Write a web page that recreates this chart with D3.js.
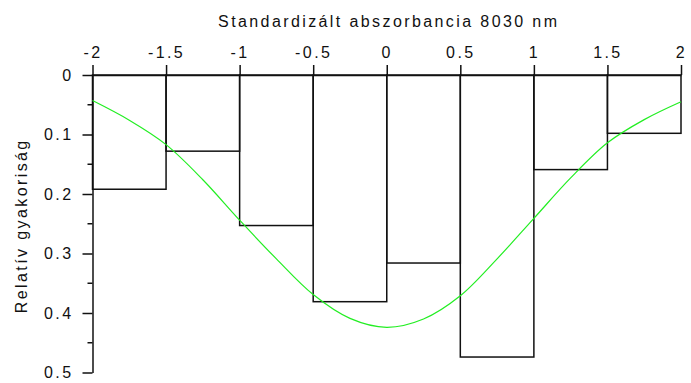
<!DOCTYPE html>
<html>
<head>
<meta charset="utf-8">
<script src="https://cdn.jsdelivr.net/npm/d3@7"></script>
<style>
  html, body { margin: 0; padding: 0; background: #fff; }
  svg { display: block; }
  text { font-family: "Liberation Sans", Arial, sans-serif; font-size: 16px; fill: #111; letter-spacing: 2.4px; }
  .axis path, .axis line { stroke: #111; stroke-width: 1.5; }
</style>
</head>
<body>
<svg id="chart" width="691" height="383"></svg>
<script>
/* ── data ── */
const binEdges = [-2, -1.5, -1, -0.5, 0, 0.5, 1, 1.5, 2];
const binFreq  = [0.192, 0.128, 0.253, 0.381, 0.316, 0.474, 0.159, 0.098];

// fitted curve (green)
const curveX = [-2, -1.75, -1.5, -1.25, -1, -0.75, -0.5, -0.25, 0, 0.25, 0.5, 0.75, 1, 1.25, 1.5, 1.75, 2];
const curveY = [0.043, 0.076, 0.117, 0.176, 0.244, 0.309, 0.369, 0.409, 0.424, 0.410, 0.371, 0.309, 0.241, 0.173, 0.114, 0.075, 0.045];

const xTicks = [-2, -1.5, -1, -0.5, 0, 0.5, 1, 1.5, 2];
const yTicks = [0, 0.1, 0.2, 0.3, 0.4, 0.5];
const yMinor = [0.05, 0.15, 0.25, 0.35, 0.45];

const xTitle = 'Standardizált abszorbancia 8030 nm';
const yTitle = 'Relatív gyakoriság';

/* ── scales ── */
const svg = d3.select('#chart');
const x = d3.scaleLinear().domain([-2, 2]).range([92.5, 681]);
const y = d3.scaleLinear().domain([0, 0.5]).range([75, 372.5]);

const fmt = (d) => String(d);

// histogram bars (hanging from the top axis)
const bins = binFreq.map((f, i) => ({ x0: binEdges[i], x1: binEdges[i + 1], f }));
svg.append('g')
  .selectAll('rect')
  .data(bins)
  .join('rect')
    .attr('x', (d) => x(d.x0))
    .attr('y', y(0))
    .attr('width', (d) => x(d.x1) - x(d.x0))
    .attr('height', (d) => y(d.f) - y(0))
    .attr('fill', 'none')
    .attr('stroke', '#111')
    .attr('stroke-width', 1.5);

// top axis
svg.append('g')
  .attr('class', 'axis')
  .attr('transform', `translate(0,${y(0)})`)
  .call(d3.axisTop(x).tickValues(xTicks).tickFormat(fmt).tickSize(10).tickSizeOuter(0).tickPadding(7));

// left axis
const gy = svg.append('g')
  .attr('class', 'axis')
  .attr('transform', `translate(${x(-2)},0)`)
  .call(d3.axisLeft(y).tickValues(yTicks).tickFormat(fmt).tickSize(10).tickSizeOuter(0).tickPadding(9));

// minor ticks on y
gy.selectAll('.minor')
  .data(yMinor)
  .join('line')
    .attr('class', 'minor')
    .attr('x1', -5).attr('x2', 0)
    .attr('y1', (d) => y(d)).attr('y2', (d) => y(d));

svg.selectAll('.tick text').style('font-size', '16px').attr('fill', '#111');

// green curve
const line = d3.line()
  .x((d) => x(d[0]))
  .y((d) => y(d[1]))
  .curve(d3.curveCatmullRom);

svg.append('path')
  .datum(d3.zip(curveX, curveY))
  .attr('d', line)
  .attr('fill', 'none')
  .attr('stroke', '#22ee22')
  .attr('stroke-width', 1.2);

// titles
svg.append('text')
  .attr('x', (x(-2) + x(2)) / 2 + 2)
  .attr('y', 27)
  .attr('text-anchor', 'middle')
  .text(xTitle);

svg.append('text')
  .attr('transform', `translate(27,${(y(0) + y(0.5)) / 2 + 2}) rotate(-90)`)
  .attr('text-anchor', 'middle')
  .text(yTitle);
</script>
</body>
</html>
